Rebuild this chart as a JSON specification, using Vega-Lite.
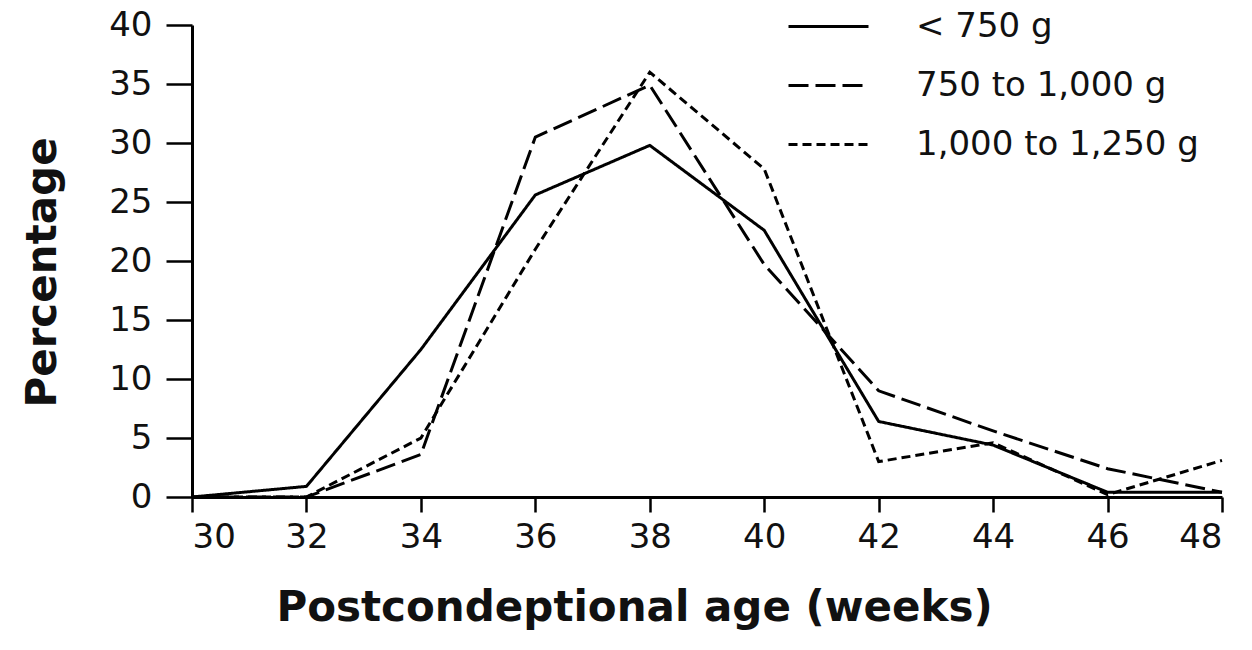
{
  "$schema": "https://vega.github.io/schema/vega-lite/v6.json",
  "width": 1030,
  "height": 472,
  "autosize": {"type": "none"},
  "padding": {"left": 192, "top": 25, "right": 30, "bottom": 153},
  "background": "white",
  "config": {
    "view": {"stroke": null},
    "axis": {"grid": false, "domainColor": "black", "tickColor": "black", "labelColor": "#111", "titleColor": "#111", "labelFont": "DejaVu Sans", "titleFont": "DejaVu Sans"}
  },
  "data": {
    "values": [
      {"week": 30, "pct": 0, "group": "< 750 g"},
      {"week": 32, "pct": 0.9, "group": "< 750 g"},
      {"week": 34, "pct": 12.5, "group": "< 750 g"},
      {"week": 36, "pct": 25.6, "group": "< 750 g"},
      {"week": 38, "pct": 29.8, "group": "< 750 g"},
      {"week": 40, "pct": 22.6, "group": "< 750 g"},
      {"week": 42, "pct": 6.4, "group": "< 750 g"},
      {"week": 44, "pct": 4.4, "group": "< 750 g"},
      {"week": 46, "pct": 0.4, "group": "< 750 g"},
      {"week": 48, "pct": 0.4, "group": "< 750 g"},
      {"week": 30, "pct": 0, "group": "750 to 1,000 g"},
      {"week": 32, "pct": 0, "group": "750 to 1,000 g"},
      {"week": 34, "pct": 3.6, "group": "750 to 1,000 g"},
      {"week": 36, "pct": 30.5, "group": "750 to 1,000 g"},
      {"week": 38, "pct": 34.9, "group": "750 to 1,000 g"},
      {"week": 40, "pct": 19.7, "group": "750 to 1,000 g"},
      {"week": 42, "pct": 9.0, "group": "750 to 1,000 g"},
      {"week": 44, "pct": 5.6, "group": "750 to 1,000 g"},
      {"week": 46, "pct": 2.4, "group": "750 to 1,000 g"},
      {"week": 48, "pct": 0.4, "group": "750 to 1,000 g"},
      {"week": 30, "pct": 0, "group": "1,000 to 1,250 g"},
      {"week": 32, "pct": 0, "group": "1,000 to 1,250 g"},
      {"week": 34, "pct": 5.0, "group": "1,000 to 1,250 g"},
      {"week": 36, "pct": 21.0, "group": "1,000 to 1,250 g"},
      {"week": 38, "pct": 36.0, "group": "1,000 to 1,250 g"},
      {"week": 40, "pct": 27.8, "group": "1,000 to 1,250 g"},
      {"week": 42, "pct": 3.0, "group": "1,000 to 1,250 g"},
      {"week": 44, "pct": 4.6, "group": "1,000 to 1,250 g"},
      {"week": 46, "pct": 0.2, "group": "1,000 to 1,250 g"},
      {"week": 48, "pct": 3.1, "group": "1,000 to 1,250 g"}
    ]
  },
  "mark": {"type": "line", "color": "black", "strokeWidth": 3, "clip": false},
  "encoding": {
    "x": {
      "field": "week", "type": "quantitative",
      "scale": {"domain": [30, 48], "nice": false, "zero": false},
      "axis": {
        "values": [30, 32, 34, 36, 38, 40, 42, 44, 46, 48],
        "title": "Postcondeptional age (weeks)",
        "labelFontSize": 34, "labelPadding": 8, "tickSize": 15, "tickWidth": 2.5, "domainWidth": 3,
        "titleFontSize": 42, "titleFontWeight": "bold", "titleX": 442, "titleY": 123, "titleAlign": "center", "titleBaseline": "alphabetic"
      }
    },
    "y": {
      "field": "pct", "type": "quantitative",
      "scale": {"domain": [0, 40], "nice": false},
      "axis": {
        "values": [0, 5, 10, 15, 20, 25, 30, 35, 40],
        "title": "Percentage",
        "labelFontSize": 34, "labelPadding": 14, "tickSize": 26, "tickWidth": 2.5, "domainWidth": 3,
        "titleFontSize": 42, "titleFontWeight": "bold", "titleX": -137, "titleY": 247, "titleAlign": "center", "titleBaseline": "alphabetic", "titleAngle": -90
      }
    },
    "strokeDash": {
      "field": "group", "type": "nominal",
      "scale": {"domain": ["< 750 g", "750 to 1,000 g", "1,000 to 1,250 g"], "range": [[1, 0], [20, 7], [9, 5]]},
      "legend": {
        "title": null, "orient": "none", "legendX": 595, "legendY": -40, "padding": 0,
        "symbolType": "stroke", "symbolSize": 6400, "symbolStrokeWidth": 3, "symbolStrokeColor": "black",
        "labelFont": "DejaVu Sans", "labelFontSize": 34, "labelColor": "#111", "labelOffset": 46, "labelLimit": 0, "rowPadding": 0
      }
    }
  }
}
